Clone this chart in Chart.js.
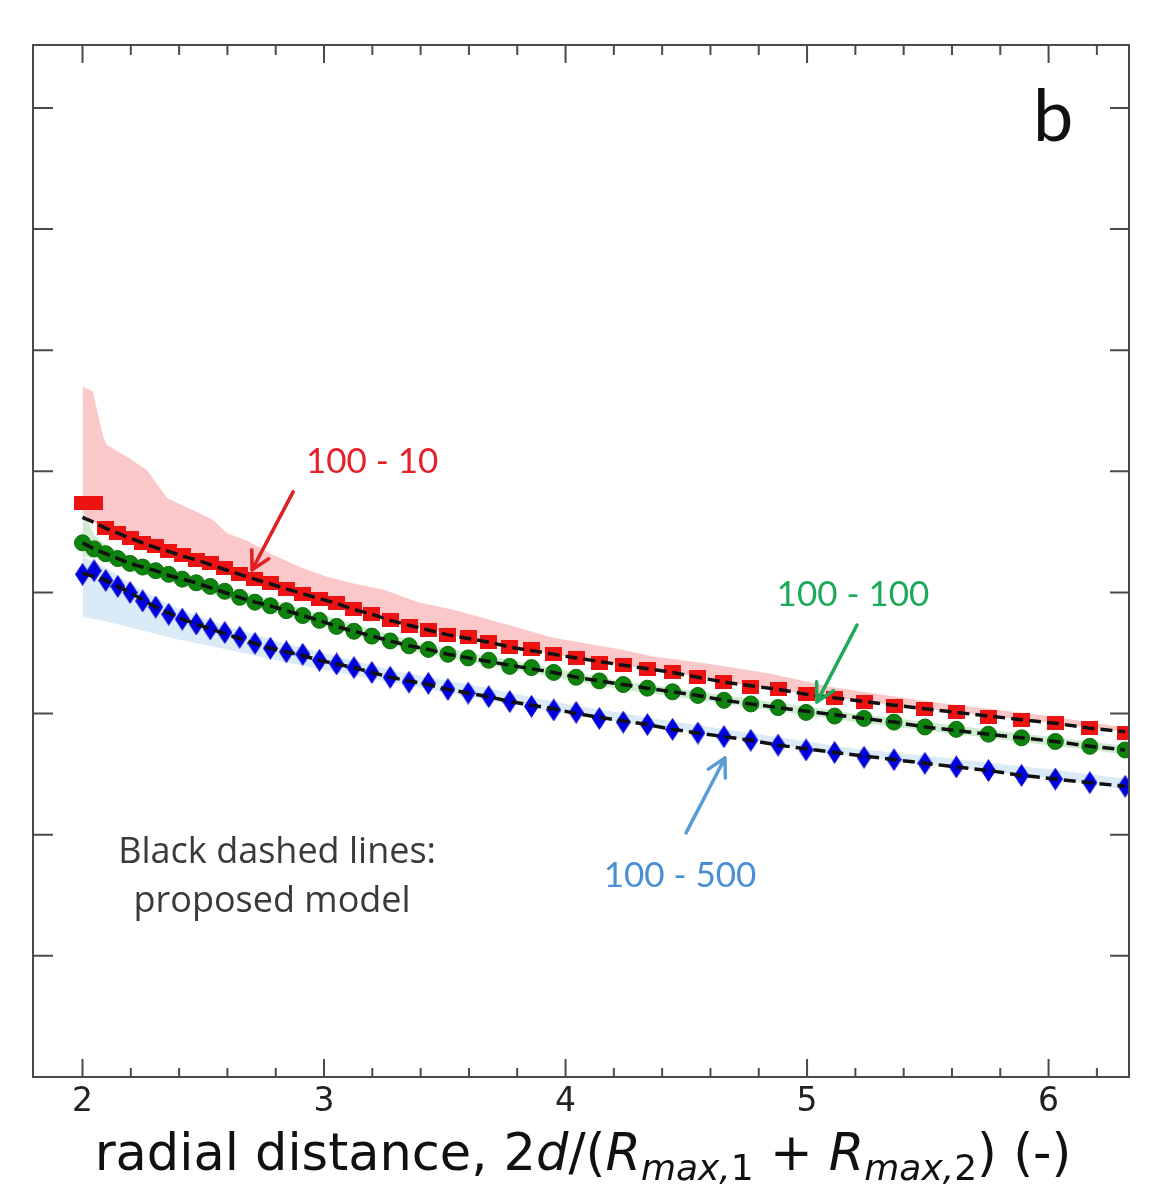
<!DOCTYPE html>
<html><head><meta charset="utf-8">
<script src="https://cdn.jsdelivr.net/npm/chart.js@4.4.1/dist/chart.umd.min.js"></script>
<style>html,body{margin:0;padding:0;background:#fff;}#wrap{width:1176px;height:1198px;}</style>
</head><body><div id="wrap"><canvas id="c" width="1176" height="1198"></canvas></div>
<script>
// ---------- data ----------
const xValues = [2.000, 2.048, 2.096, 2.146, 2.197, 2.249, 2.303, 2.357, 2.413, 2.471,
  2.529, 2.589, 2.651, 2.714, 2.778, 2.844, 2.912, 2.981, 3.052, 3.124,
  3.198, 3.274, 3.352, 3.432, 3.513, 3.597, 3.682, 3.769, 3.859, 3.951,
  4.044, 4.140, 4.239, 4.339, 4.443, 4.548, 4.656, 4.767, 4.880, 4.996,
  5.114, 5.236, 5.360, 5.488, 5.618, 5.751, 5.888, 6.028, 6.171, 6.317];

const sim_100_10 = [4.74, 4.74, 4.53, 4.49, 4.45, 4.41, 4.38, 4.34, 4.31, 4.27,
  4.24, 4.20, 4.15, 4.11, 4.08, 4.03, 3.99, 3.95, 3.91, 3.86,
  3.82, 3.77, 3.72, 3.69, 3.65, 3.63, 3.59, 3.55, 3.53, 3.49,
  3.46, 3.42, 3.40, 3.37, 3.34, 3.30, 3.26, 3.22, 3.20, 3.16,
  3.13, 3.10, 3.06, 3.04, 3.01, 2.97, 2.95, 2.92, 2.88, 2.84];
const sim_100_100 = [4.41, 4.36, 4.32, 4.28, 4.24, 4.21, 4.18, 4.15, 4.11, 4.08,
  4.05, 4.01, 3.96, 3.92, 3.89, 3.85, 3.81, 3.77, 3.72, 3.68,
  3.64, 3.60, 3.56, 3.53, 3.49, 3.46, 3.44, 3.39, 3.38, 3.34,
  3.30, 3.27, 3.24, 3.21, 3.18, 3.15, 3.11, 3.08, 3.05, 3.01,
  2.98, 2.96, 2.93, 2.89, 2.87, 2.83, 2.80, 2.77, 2.73, 2.70];
const sim_100_500 = [4.15, 4.18, 4.10, 4.05, 4.00, 3.93, 3.88, 3.82, 3.78, 3.74,
  3.70, 3.67, 3.63, 3.58, 3.54, 3.51, 3.49, 3.44, 3.41, 3.38,
  3.34, 3.30, 3.26, 3.25, 3.20, 3.17, 3.14, 3.10, 3.06, 3.03,
  3.01, 2.96, 2.93, 2.91, 2.87, 2.84, 2.81, 2.78, 2.74, 2.70,
  2.68, 2.64, 2.62, 2.59, 2.56, 2.53, 2.49, 2.46, 2.43, 2.40];

const model_100_10 = [4.62, 4.58, 4.53, 4.49, 4.45, 4.41, 4.37, 4.34, 4.30, 4.27,
  4.23, 4.19, 4.15, 4.11, 4.07, 4.03, 3.99, 3.95, 3.91, 3.86,
  3.82, 3.77, 3.73, 3.69, 3.65, 3.62, 3.59, 3.55, 3.52, 3.49,
  3.46, 3.43, 3.40, 3.37, 3.34, 3.30, 3.26, 3.23, 3.20, 3.16,
  3.13, 3.10, 3.07, 3.04, 3.01, 2.98, 2.95, 2.92, 2.88, 2.85];
const model_100_100 = [4.41, 4.36, 4.32, 4.28, 4.24, 4.21, 4.18, 4.14, 4.11, 4.08,
  4.04, 4.00, 3.96, 3.92, 3.89, 3.85, 3.81, 3.77, 3.72, 3.68,
  3.64, 3.60, 3.56, 3.53, 3.49, 3.46, 3.43, 3.40, 3.37, 3.34,
  3.30, 3.27, 3.24, 3.21, 3.18, 3.15, 3.11, 3.08, 3.05, 3.02,
  2.99, 2.96, 2.93, 2.89, 2.86, 2.83, 2.80, 2.77, 2.73, 2.70];
const model_100_500 = [4.16, 4.13, 4.10, 4.05, 4.00, 3.94, 3.88, 3.83, 3.78, 3.74,
  3.70, 3.66, 3.62, 3.58, 3.54, 3.51, 3.48, 3.44, 3.41, 3.38,
  3.34, 3.30, 3.27, 3.24, 3.20, 3.17, 3.14, 3.10, 3.07, 3.04,
  3.00, 2.97, 2.94, 2.91, 2.87, 2.84, 2.81, 2.78, 2.74, 2.71,
  2.68, 2.65, 2.62, 2.59, 2.56, 2.53, 2.49, 2.46, 2.43, 2.40];

// shaded ranges
const band_100_10_x = [2.000, 2.043, 2.085, 2.100, 2.184, 2.267, 2.350, 2.391, 2.458, 2.540,
  2.598, 2.681, 2.789, 2.901, 3.012, 3.108, 3.25, 3.39, 3.53, 3.66,
  3.80, 3.94, 4.08, 4.23, 4.37, 4.60, 4.85, 5.10, 5.50, 6.00, 6.33];
const band_100_10_upper = [5.70, 5.66, 5.29, 5.22, 5.12, 5.01, 4.78, 4.74, 4.68, 4.60,
  4.49, 4.43, 4.31, 4.21, 4.13, 4.08, 4.02, 3.92, 3.86, 3.79,
  3.71, 3.63, 3.58, 3.53, 3.47, 3.41, 3.33, 3.22, 3.10, 2.98, 2.88];

const band_100_100_x = [2.0, 2.05, 2.1, 2.2, 2.4, 2.8, 3.4, 4.2, 5.2, 6.33];
const band_100_100_upper = [4.68, 4.47, 4.39, 4.30, 4.17, 3.93, 3.58, 3.28, 3.00, 2.73];
const band_100_100_lower = [4.30, 4.28, 4.25, 4.18, 4.07, 3.83, 3.50, 3.21, 2.93, 2.66];

const band_100_500_x = [2.0, 2.1, 2.2, 2.4, 2.6, 2.8, 3.0, 3.3, 3.6, 4.0, 4.4, 4.8, 5.2, 5.6, 6.0, 6.33];
const band_100_500_upper = [4.30, 4.20, 4.07, 3.86, 3.72, 3.60, 3.50, 3.35, 3.24, 3.08, 2.95, 2.83, 2.71, 2.63, 2.54, 2.46];
const band_100_500_lower = [3.80, 3.76, 3.71, 3.61, 3.53, 3.44, 3.36, 3.25, 3.14, 3.00, 2.88, 2.77, 2.65, 2.56, 2.47, 2.37];

// axis ticks and labels
const xTickLabels = [2, 3, 4, 5, 6];
const xMinorTicks = [2.2, 2.4, 2.6, 2.8, 3.2, 3.4, 3.6, 3.8, 4.2, 4.4, 4.6, 4.8, 5.2, 5.4, 5.6, 5.8, 6.2];
const yTicks = [1, 2, 3, 4, 5, 6, 7, 8];
const xTitleParts = [
  {t: 'radial distance, 2'}, {t: 'd', it: true}, {t: '/('}, {t: 'R', it: true},
  {t: 'max,', it: true, sub: true}, {t: '1', sub: true}, {t: ' + '}, {t: 'R', it: true},
  {t: 'max,', it: true, sub: true}, {t: '2', sub: true}, {t: ') (-)'}
];
const textNotes = [
  {text: '100 - 10', x: 3.199, y: 5.078, color: '#e5212a', size: 35, font: 'Lato'},
  {text: '100 - 100', x: 5.190, y: 3.980, color: '#1da95a', size: 35, font: 'Lato'},
  {text: '100 - 500', x: 4.474, y: 1.660, color: '#4a8fd6', size: 35, font: 'Lato'},
  {text: 'Black dashed lines:', x: 2.806, y: 1.850, color: '#3a3a3a', size: 36, font: '"Open Sans"'},
  {text: 'proposed model', x: 2.785, y: 1.445, color: '#3a3a3a', size: 36, font: '"Open Sans"'},
  {text: 'b', x: 6.019, y: 7.919, color: '#111111', size: 72, font: 'Lato'}
];
const arrowNotes = [
  {x1: 2.872, y1: 4.831, x2: 2.702, y2: 4.187, color: '#e02020'},
  {x1: 5.207, y1: 3.732, x2: 5.041, y2: 3.097, color: '#1da95a'},
  {x1: 4.499, y1: 2.015, x2: 4.660, y2: 2.634, color: '#5b9bd5'}
];

// ---------- marker images ----------
function makeRect(w, h, color) {
  const c = document.createElement('canvas'); c.width = w; c.height = h;
  const g = c.getContext('2d'); g.fillStyle = color; g.fillRect(0, 0, w, h); return c;
}
function makeDiamond(w, h, color) {
  const c = document.createElement('canvas'); c.width = w; c.height = h;
  const g = c.getContext('2d'); g.fillStyle = color; g.beginPath();
  g.moveTo(w / 2, 0); g.lineTo(w, h / 2); g.lineTo(w / 2, h); g.lineTo(0, h / 2); g.closePath(); g.fill(); return c;
}
const redMarker = makeRect(17, 14, '#ee1313');
const blueMarker = makeDiamond(15, 23, '#0000dd');

const pts = (xs, ys) => xs.map((x, i) => ({x: x, y: ys[i]}));

// ---------- plugins ----------
const frameTicks = {
  id: 'frameTicks',
  afterDatasetsDraw(chart) {
    const ctx = chart.ctx, a = chart.chartArea, sx = chart.scales.x, sy = chart.scales.y;
    ctx.save();
    ctx.strokeStyle = '#4a4a4a'; ctx.lineWidth = 2;
    ctx.strokeRect(a.left, a.top, a.right - a.left, a.bottom - a.top);
    ctx.beginPath();
    xTickLabels.forEach(v => { const px = sx.getPixelForValue(v);
      ctx.moveTo(px, a.bottom); ctx.lineTo(px, a.bottom - 18);
      ctx.moveTo(px, a.top); ctx.lineTo(px, a.top + 18); });
    xMinorTicks.forEach(v => { const px = sx.getPixelForValue(v);
      ctx.moveTo(px, a.bottom); ctx.lineTo(px, a.bottom - 9);
      ctx.moveTo(px, a.top); ctx.lineTo(px, a.top + 10); });
    yTicks.forEach(v => { const py = sy.getPixelForValue(v);
      ctx.moveTo(a.left, py); ctx.lineTo(a.left + 20, py);
      ctx.moveTo(a.right, py); ctx.lineTo(a.right - 19, py); });
    ctx.stroke();
    ctx.restore();
  },
  afterDraw(chart) {
    const ctx = chart.ctx, sx = chart.scales.x, sy = chart.scales.y;
    ctx.save();
    arrowNotes.forEach(n => {
      const x1 = sx.getPixelForValue(n.x1), y1 = sy.getPixelForValue(n.y1);
      const x2 = sx.getPixelForValue(n.x2), y2 = sy.getPixelForValue(n.y2);
      ctx.strokeStyle = n.color; ctx.lineWidth = 3.5; ctx.lineCap = 'round'; ctx.lineJoin = 'round';
      ctx.beginPath(); ctx.moveTo(x1, y1); ctx.lineTo(x2, y2); ctx.stroke();
      const ang = Math.atan2(y2 - y1, x2 - x1), L = 20, w = 0.5;
      ctx.beginPath();
      ctx.moveTo(x2 - L * Math.cos(ang - w), y2 - L * Math.sin(ang - w));
      ctx.lineTo(x2, y2);
      ctx.lineTo(x2 - L * Math.cos(ang + w), y2 - L * Math.sin(ang + w));
      ctx.stroke();
    });
    ctx.textAlign = 'center'; ctx.textBaseline = 'middle';
    textNotes.forEach(n => {
      ctx.fillStyle = n.color; ctx.font = n.size + 'px ' + n.font;
      ctx.fillText(n.text, sx.getPixelForValue(n.x), sy.getPixelForValue(n.y));
    });
    const base = 51, subSize = Math.round(base * 0.7);
    const fontOf = p => (p.it ? 'italic ' : '') + (p.sub ? subSize : base) + 'px "DejaVu Sans"';
    let total = 0;
    xTitleParts.forEach(p => { ctx.font = fontOf(p); total += ctx.measureText(p.t).width; });
    let x = (chart.chartArea.left + chart.chartArea.right) / 2 - total / 2 + 2;
    const baseline = 1170;
    ctx.textAlign = 'left'; ctx.textBaseline = 'alphabetic'; ctx.fillStyle = '#111';
    xTitleParts.forEach(p => {
      ctx.font = fontOf(p);
      ctx.fillText(p.t, x, baseline + (p.sub ? 10 : 0));
      x += ctx.measureText(p.t).width;
    });
    ctx.restore();
  }
};

// ---------- chart ----------
new Chart(document.getElementById('c'), {
  type: 'line',
  data: {
    datasets: [
      {label: 'model 100-10', data: pts(xValues, model_100_10), borderColor: '#111', borderWidth: 3.5, borderDash: [12, 6], pointRadius: 0, fill: false, order: 0},
      {label: 'model 100-100', data: pts(xValues, model_100_100), borderColor: '#111', borderWidth: 3.5, borderDash: [12, 6], pointRadius: 0, fill: false, order: 0},
      {label: 'model 100-500', data: pts(xValues, model_100_500), borderColor: '#111', borderWidth: 3.5, borderDash: [12, 6], pointRadius: 0, fill: false, order: 0},
      {label: '100 - 10', data: pts(xValues, sim_100_10), showLine: false, pointStyle: redMarker, pointRadius: 8, order: 1},
      {label: '100 - 100', data: pts(xValues, sim_100_100), showLine: false, pointStyle: 'circle', pointRadius: 8, backgroundColor: '#0e840e', borderColor: '#0a6c0a', borderWidth: 1, order: 1},
      {label: '100 - 500', data: pts(xValues, sim_100_500), showLine: false, pointStyle: blueMarker, pointRadius: 8, order: 1},
      {label: 'range 100-10', data: pts(band_100_10_x, band_100_10_upper), borderWidth: 0, borderColor: 'rgba(0,0,0,0)', pointRadius: 0, fill: 0, backgroundColor: 'rgb(250,200,200)', order: 5},
      {label: 'range 100-100 hi', data: pts(band_100_100_x, band_100_100_upper), borderWidth: 0, borderColor: 'rgba(0,0,0,0)', pointRadius: 0, fill: '+1', backgroundColor: 'rgb(208,236,208)', order: 4},
      {label: 'range 100-100 lo', data: pts(band_100_100_x, band_100_100_lower), borderWidth: 0, borderColor: 'rgba(0,0,0,0)', pointRadius: 0, fill: false, order: 4},
      {label: 'range 100-500 hi', data: pts(band_100_500_x, band_100_500_upper), borderWidth: 0, borderColor: 'rgba(0,0,0,0)', pointRadius: 0, fill: '+1', backgroundColor: 'rgb(218,234,247)', order: 3},
      {label: 'range 100-500 lo', data: pts(band_100_500_x, band_100_500_lower), borderWidth: 0, borderColor: 'rgba(0,0,0,0)', pointRadius: 0, fill: false, order: 3}
    ]
  },
  options: {
    responsive: false,
    animation: false,
    events: [],
    layout: {padding: {left: 33, right: 47, top: 45, bottom: 0}},
    plugins: {legend: {display: false}, tooltip: {enabled: false}},
    scales: {
      x: {
        type: 'linear', min: 1.795, max: 6.333,
        grid: {display: false, drawTicks: false}, border: {display: false},
        afterBuildTicks: s => { s.ticks = xTickLabels.map(v => ({value: v})); },
        afterFit: s => { s.height = 121; },
        ticks: {font: {family: 'DejaVu Sans', size: 33}, color: '#222', padding: 6, maxRotation: 0, autoSkip: false,
          callback: v => String(v)}
      },
      y: {type: 'linear', min: 0, max: 8.52, display: false}
    }
  },
  plugins: [frameTicks]
});
</script></body></html>
